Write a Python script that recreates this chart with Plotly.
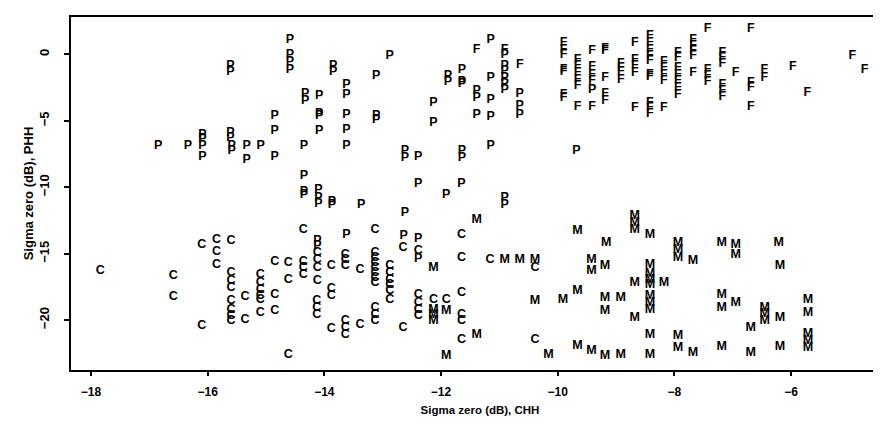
import plotly.graph_objects as go

# ---- data ----
p_x = [-14.59, -14.59, -14.59, -14.59, -15.61, -15.61, -13.85, -13.85, -14.33, -14.33,
       -14.09, -14.09, -14.09, -14.09, -14.85, -14.85, -15.61, -15.61,
       -16.85, -16.34, -16.09, -16.09, -16.09, -16.09, -15.59, -15.59, -15.33, -15.33,
       -15.09, -14.85, -14.35, -14.35, -14.35, -14.35, -14.10, -14.10, -14.10,
       -13.87, -13.87, -13.62, -13.62, -14.12, -14.12,
       -12.88, -13.11, -13.62, -13.62, -13.62, -13.62, -13.11, -13.11, -12.13, -12.13,
       -11.15, -11.88, -11.88, -11.64, -11.64, -11.64, -11.39, -11.39, -11.39,
       -11.15, -11.15, -11.15, -10.91, -10.91, -10.91, -10.91, -10.91, -10.91,
       -10.65, -10.65, -10.65, -9.41,
       -12.62, -12.62, -12.39, -11.64, -11.64, -11.15, -9.68, -12.39, -11.91, -11.65,
       -10.91, -10.91, -13.37, -12.62, -12.64, -12.39, -12.39]
p_y = [1.08, -0.05, -0.55, -1.13, -0.85, -1.35, -0.85, -1.35, -3.00, -3.50,
       -3.14, -4.45, -4.60, -5.77, -4.64, -5.72, -5.90, -6.30,
       -6.90, -6.90, -6.05, -6.35, -6.90, -7.71, -6.90, -7.28, -6.90, -7.96,
       -6.90, -7.71, -6.90, -9.12, -10.35, -10.55, -10.17, -10.80, -11.23,
       -11.10, -11.30, -6.90, -13.56, -14.06, -14.44,
       -0.12, -1.63, -2.26, -3.06, -4.52, -5.65, -4.65, -4.90, -3.64, -5.15,
       1.08, -1.65, -2.10, -1.13, -2.05, -2.25, -2.76, -3.26, -4.52,
       -1.76, -3.39, -4.72, -0.02, -0.85, -1.23, -1.76, -2.20, -2.66,
       -2.96, -3.89, -4.52, -2.64,
       -7.28, -7.78, -7.71, -7.28, -7.78, -6.90, -7.28, -9.72, -10.60, -9.72,
       -10.80, -11.30, -11.30, -11.93, -13.69, -13.89, -15.40]

f_x = [-11.39, -10.91, -10.65,
       -9.90, -9.90, -9.90, -9.90, -9.90, -9.90, -9.90,
       -9.66, -9.66, -9.66, -9.66, -9.66, -9.66,
       -9.41, -9.41, -9.41, -9.41, -9.41,
       -9.19, -9.19, -9.19, -9.19, -9.19,
       -8.92, -8.92, -8.92, -8.92,
       -8.68, -8.68, -8.68, -8.68, -8.68,
       -8.42, -8.42, -8.42, -8.42, -8.42, -8.42, -8.42, -8.42, -8.42, -8.42,
       -8.18, -8.18, -8.18, -8.18, -8.18,
       -7.94, -7.94, -7.94, -7.94, -7.94, -7.94, -7.94,
       -7.68, -7.68, -7.68, -7.68, -7.68,
       -7.43, -7.43, -7.43, -7.43,
       -7.18, -7.18, -7.18, -7.18, -7.18, -7.18,
       -6.95, -6.69, -6.69, -6.69, -6.69, -6.46, -6.46,
       -5.97, -5.72, -4.95, -4.74]
f_y = [0.38, 0.35, -0.75,
       0.88, 0.38, 0.00, -1.15, -1.35, -3.05, -3.25,
       -0.38, -0.88, -1.38, -1.88, -2.38, -3.97,
       0.25, -0.95, -1.51, -2.00, -3.97,
       0.30, 0.45, -1.76, -2.96, -3.47,
       -0.70, -1.00, -1.30, -1.88,
       0.88, -0.38, -0.88, -1.38, -4.02,
       1.39, 0.88, 0.38, -0.12, -0.50, -1.55, -1.70, -3.64, -4.02, -4.47,
       -0.55, -1.00, -1.51, -1.96, -4.02,
       0.13, -0.25, -1.00, -1.51, -2.00, -2.51, -3.01,
       1.06, 0.63, 0.25, -0.12, -1.38,
       1.96, -1.20, -1.63, -2.06,
       0.13, -0.25, -0.70, -2.31, -2.76, -3.21,
       -1.38, 1.96, -2.13, -2.51, -3.97, -1.13, -1.76,
       -0.95, -2.89, -0.08, -1.13]

c_x = [-14.36, -16.10, -15.85, -15.85, -15.85, -15.60, -14.85, -14.62,
       -14.36, -14.36, -14.36, -13.88, -13.64, -13.64, -13.64,
       -17.84, -16.59, -16.59, -16.10,
       -15.60, -15.60, -15.60, -15.60, -15.60, -15.60, -15.60,
       -15.36, -15.36,
       -15.10, -15.10, -15.10, -15.10, -15.10, -15.10,
       -14.85, -14.85, -14.62, -14.62,
       -14.12, -14.12, -14.12, -14.12, -14.13, -14.13, -14.13,
       -13.88, -13.88, -13.88,
       -13.64, -13.64, -13.64, -13.39, -13.39,
       -13.13, -13.13, -13.13, -13.13, -13.13, -13.13, -13.13, -13.13, -13.13, -13.13, -13.13,
       -12.88, -12.88, -12.88, -12.88, -12.88, -12.88,
       -12.65, -12.65, -12.39, -12.39, -12.39, -12.39, -12.39,
       -12.13, -11.91, -11.65, -11.65, -11.65, -11.65, -11.65, -11.65,
       -11.16, -10.39, -10.39]
c_y = [-13.19, -14.32, -13.94, -14.89, -15.83, -14.06, -15.64, -15.70,
       -15.64, -16.07, -16.58, -15.95, -15.07, -15.50, -15.95,
       -16.28, -16.70, -18.28, -20.47,
       -16.45, -17.08, -17.58, -18.58, -19.22, -19.71, -20.09,
       -18.28, -19.97,
       -16.58, -17.20, -17.71, -18.20, -18.46, -19.47,
       -18.09, -19.29, -16.96, -22.65,
       -14.94, -15.45, -16.07, -17.08, -18.58, -19.09, -19.59,
       -17.65, -18.15, -20.70,
       -20.09, -20.60, -21.10, -16.20, -20.40,
       -13.19, -14.94, -15.32, -15.70, -16.07, -16.45, -16.83, -17.20, -19.09, -19.59, -20.05,
       -15.95, -16.45, -16.96, -17.33, -17.83, -18.46,
       -14.57, -20.60, -14.82, -18.09, -18.71, -19.26, -19.71,
       -18.46, -18.46, -13.56, -15.35, -17.96, -19.59, -20.09, -21.48,
       -15.50, -16.07, -21.48]

m_x = [-12.13, -10.91, -10.65, -10.39,
       -12.13, -12.13, -12.13, -11.91, -11.39, -11.91,
       -10.39, -10.16, -9.91, -9.66, -9.66, -9.42, -9.19,
       -9.19, -9.19, -9.42, -9.42, -9.19,
       -11.39, -9.66, -9.17,
       -8.92, -8.92, -8.68, -8.68,
       -8.42, -8.42, -8.42, -8.42, -8.42, -8.42, -8.42, -8.42, -8.42,
       -8.18, -7.94, -7.94, -7.68,
       -7.19, -7.19, -7.19, -6.95, -6.69, -6.69,
       -6.45, -6.45, -6.45, -6.19, -6.19, -6.19,
       -5.71, -5.71, -5.71, -5.71, -5.71,
       -8.68, -8.68, -8.68, -8.42,
       -7.94, -7.94, -7.94, -7.68, -7.19, -6.95, -6.95, -6.21]
m_y = [-16.07, -15.50, -15.50, -15.50,
       -19.22, -19.59, -20.05, -19.34, -21.10, -22.68,
       -18.58, -22.61, -18.46, -17.78, -21.98, -22.35, -22.73,
       -18.33, -19.34, -15.45, -16.32, -15.90,
       -12.48, -13.31, -14.19,
       -18.33, -22.61, -17.20, -19.84,
       -15.82, -16.53, -16.96, -17.33, -18.21, -18.71, -19.22, -21.10, -22.61,
       -17.20, -21.22, -22.10, -22.48,
       -18.09, -19.09, -22.05, -18.71, -20.60, -22.48,
       -19.09, -19.50, -20.09, -19.84, -22.05, -15.95,
       -18.46, -19.47, -21.05, -21.55, -22.10,
       -12.18, -12.68, -13.19, -13.56,
       -14.19, -14.69, -15.32, -15.52, -14.19, -14.32, -15.07, -14.19]

x_ticks = [-18, -16, -14, -12, -10, -8, -6]
y_ticks = [0, -5, -10, -15, -20]
x_title = "Sigma zero (dB), CHH"
y_title = "Sigma zero (dB), PHH"

FONT = "Liberation Sans"
letter_font = dict(family=FONT, size=12.5, color="black", weight="bold")

fig = go.Figure()
for lx, ly, letter in [(p_x, p_y, "P"), (f_x, f_y, "F"), (c_x, c_y, "C"), (m_x, m_y, "M")]:
    fig.add_trace(go.Scatter(x=lx, y=ly, mode="text", text=[letter] * len(lx),
                             textposition="middle center", textfont=letter_font,
                             hoverinfo="skip", showlegend=False))

xtick_font = dict(family=FONT, size=12, color="black", weight="bold")
ytick_font = dict(family=FONT, size=13, color="black", weight="bold")
fig.update_layout(
    width=881, height=425,
    margin=dict(l=63, r=0, t=9, b=63),
    paper_bgcolor="white", plot_bgcolor="white",
    xaxis=dict(range=[-18.343, -4.321], tickvals=x_ticks, ticks="outside", ticklen=4,
               tickwidth=1.5, tickcolor="black", showline=True, linewidth=2, linecolor="black",
               mirror=True, showgrid=False, zeroline=False, tickfont=xtick_font,
               ticklabelstandoff=6,
               title=dict(text=x_title, font=dict(family=FONT, size=11.5, color="black", weight="bold"),
                          standoff=8)),
    yaxis=dict(range=[-23.76, 2.818], tickvals=y_ticks, ticks="outside", ticklen=5,
               tickwidth=1.5, tickcolor="black", showline=True, linewidth=2, linecolor="black",
               mirror=False, showgrid=False, zeroline=False, tickfont=ytick_font,
               tickangle=-90, ticklabelstandoff=10,
               title=dict(text=y_title, font=dict(family=FONT, size=13, color="black", weight="bold"),
                          standoff=0)),
)

fig.write_html("out.html")
